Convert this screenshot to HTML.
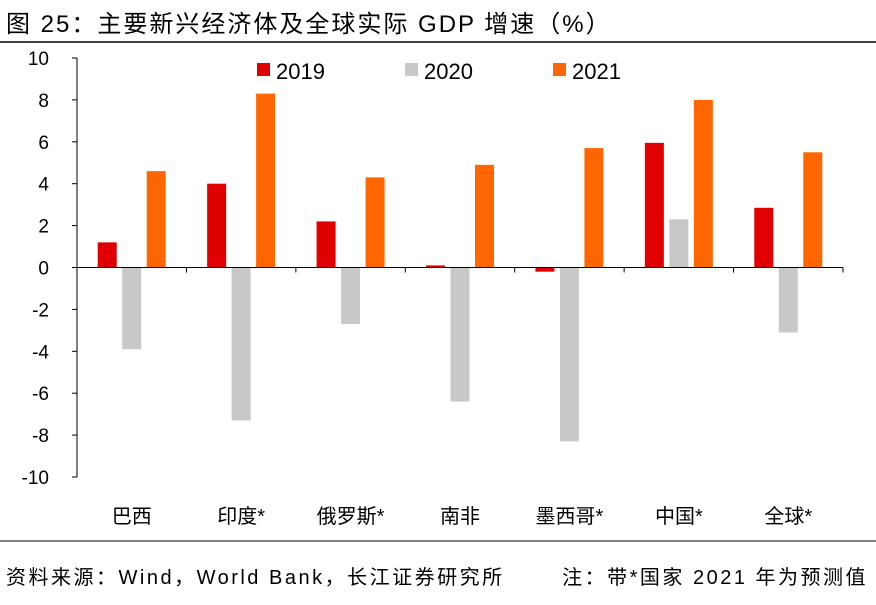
<!DOCTYPE html>
<html><head><meta charset="utf-8"><style>
body{margin:0;background:#fff;}
svg text{font-family:"Liberation Sans","Noto Sans CJK SC",sans-serif;}
</style></head><body>
<svg width="876" height="600" xmlns="http://www.w3.org/2000/svg" id="chart">
<text x="6" y="32" font-size="24" letter-spacing="2" fill="#000">图 25：主要新兴经济体及全球实际 GDP 增速（%）</text>
<line x1="0" y1="42" x2="876" y2="42" stroke="#000" stroke-width="1.5"/>
<g id="plot"></g>
<line x1="0" y1="541" x2="876" y2="541" stroke="#000" stroke-width="1"/>
<text x="6" y="584" font-size="20" letter-spacing="2.5" fill="#000">资料来源：Wind，World Bank，长江证券研究所</text>
<text x="868" y="584" font-size="20" letter-spacing="2.5" fill="#000" text-anchor="end">注：带*国家 2021 年为预测值</text>
</svg>
<script>
const categories=["巴西","印度*","俄罗斯*","南非","墨西哥*","中国*","全球*"];
const s2019=[1.2,4.0,2.2,0.1,-0.2,5.95,2.85];
const s2020=[-3.9,-7.3,-2.7,-6.4,-8.3,2.3,-3.1];
const s2021=[4.6,8.3,4.3,4.9,5.7,8.0,5.5];
const seriesNames=["2019","2020","2021"];
const yTicks=[10,8,6,4,2,0,-2,-4,-6,-8,-10];
const NS="http://www.w3.org/2000/svg";
const g=document.getElementById('plot');
const x0=77,x1=843,yTop=58,yBot=477;
const y=v=>yTop+(10-v)/20*(yBot-yTop);
const band=(x1-x0)/categories.length;
const cx=i=>x0+band*(i+0.5);
function el(t,a){const e=document.createElementNS(NS,t);for(const k in a)e.setAttribute(k,a[k]);g.appendChild(e);return e;}
let ax=el('line',{x1:x0,y1:yTop,x2:x0,y2:yBot,stroke:'#000','stroke-width':1});


yTicks.forEach(v=>{
 const t=el('line',{x1:x0-5,y1:y(v),x2:x0,y2:y(v),stroke:'#000'});
 
 
 const l=el('text',{x:x0-28,y:y(v)+7,'font-size':19,'text-anchor':'end',fill:'#000'});
 l.textContent=v;
 
 
});
const colors=["#e00000","#c8c8c8","#ff6600"];
const series=[s2019,s2020,s2021];
const offs=[-24.5,0,24.5],bw=19;
series.forEach((s,k)=>s.forEach((v,i)=>{
 const r=el('rect',{x:cx(i)+offs[k]-bw/2,y:Math.min(y(v),y(0)),width:bw,height:Math.abs(y(v)-y(0)),fill:colors[k]});
 
 
}));
let xa=el('line',{x1:x0,y1:y(0),x2:x1,y2:y(0),stroke:'#000'});


for(let i=0;i<=categories.length;i++){
 const t=el('line',{x1:x0+band*i,y1:y(0),x2:x0+band*i,y2:y(0)+5,stroke:'#000'});
 
 
}
categories.forEach((c,i)=>{
 const l=el('text',{x:cx(i),y:523,'font-size':20,'text-anchor':'middle',fill:'#000'});
 l.textContent=c;
 
 
});
const lx=[257,405,553];
seriesNames.forEach((n,k)=>{
 const r=el('rect',{x:lx[k],y:63,width:13,height:13,fill:colors[k]});
 
 
 const t=el('text',{x:lx[k]+19,y:79,'font-size':22,fill:'#000'});
 t.textContent=n;
 
 
});
</script>
</body></html>
